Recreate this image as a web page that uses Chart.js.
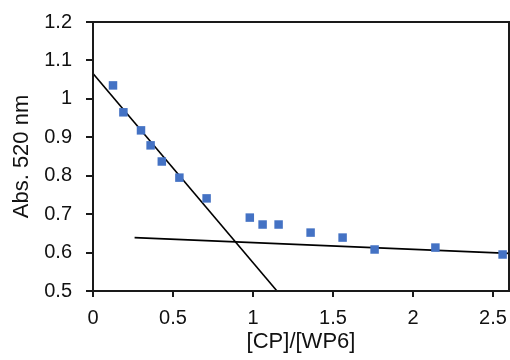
<!DOCTYPE html>
<html>
<head>
<meta charset="utf-8">
<script src="https://cdn.jsdelivr.net/npm/chart.js@4"></script>
<style>
  html, body { margin: 0; padding: 0; background: #fff; }
  #wrap { width: 510px; height: 360px; position: relative; }
</style>
</head>
<body>
<div id="wrap"><canvas id="absChart"></canvas></div>
<script>
// ── Data ──────────────────────────────────────────────────────
const RATIO_X = [0.125, 0.19, 0.30, 0.36, 0.43, 0.54, 0.71, 0.98, 1.06, 1.16, 1.36, 1.56, 1.76, 2.14, 2.56];
const ABS_Y   = [1.035, 0.965, 0.918, 0.879, 0.837, 0.795, 0.741, 0.691, 0.673, 0.673, 0.652, 0.639, 0.608, 0.613, 0.595];

// fitted lines (end points)
const FIT1_X = [0, 1.15];
const FIT1_Y = [1.066, 0.5];
const FIT2_X = [0.26, 2.6];
const FIT2_Y = [0.639, 0.598];

const X_TICKS = [0, 0.5, 1, 1.5, 2, 2.5];
const Y_TICKS = [0.5, 0.6, 0.7, 0.8, 0.9, 1, 1.1, 1.2];

const FONT = 'Liberation Sans, Arial, sans-serif';

function pairs(xs, ys) {
    return xs.map(function (x, i) { return { x: x, y: ys[i] }; });
}

// box around the plot area
const frame = {
    id: 'frame',
    afterDatasetsDraw: function (chart) {
        const a = chart.chartArea, c = chart.ctx;
        c.save();
        c.strokeStyle = '#1a1a1a';
        c.lineWidth = 2;
        c.strokeRect(a.left, a.top, a.right - a.left, a.bottom - a.top);
        c.restore();
    }
};

new Chart(document.getElementById('absChart'), {
    type: 'scatter',
    data: {
        datasets: [
            {
                data: pairs(RATIO_X, ABS_Y),
                pointStyle: 'rect',
                pointRadius: 6,
                pointHoverRadius: 6,
                backgroundColor: '#4472C4',
                borderColor: '#4472C4',
                borderWidth: 0,
                clip: 6,
                order: 0
            },
            {
                data: pairs(FIT1_X, FIT1_Y),
                showLine: true,
                pointRadius: 0,
                borderColor: '#000',
                borderWidth: 1.6,
                order: 1
            },
            {
                data: pairs(FIT2_X, FIT2_Y),
                showLine: true,
                pointRadius: 0,
                borderColor: '#000',
                borderWidth: 1.6,
                order: 1
            }
        ]
    },
    options: {
        responsive: true,
        maintainAspectRatio: false,
        animation: false,
        layout: { autoPadding: false, padding: { top: 22, right: 1, left: 0, bottom: 0 } },
        plugins: { legend: { display: false }, tooltip: { enabled: false } },
        scales: {
            x: {
                type: 'linear',
                min: 0,
                max: 2.6,
                afterBuildTicks: function (s) { s.ticks = X_TICKS.map(function (v) { return { value: v }; }); },
                afterFit: function (s) { s.height = 69; s.paddingLeft = 0; s.paddingRight = 0; },
                border: { display: false },
                grid: { drawOnChartArea: false, tickLength: 6, color: '#1a1a1a', lineWidth: 2 },
                ticks: {
                    padding: 9,
                    color: '#111',
                    font: { family: FONT, size: 20 },
                    callback: function (v) { return String(+v.toFixed(1)); }
                },
                title: {
                    display: true,
                    text: '[CP]/[WP6]',
                    color: '#111',
                    font: { family: FONT, size: 22 },
                    padding: { top: 0, bottom: 5 }
                }
            },
            y: {
                min: 0.5,
                max: 1.2,
                afterBuildTicks: function (s) { s.ticks = Y_TICKS.map(function (v) { return { value: v }; }); },
                afterFit: function (s) { s.width = 93; s.paddingTop = 0; s.paddingBottom = 0; },
                border: { display: false },
                grid: { drawOnChartArea: false, tickLength: 7, color: '#1a1a1a', lineWidth: 2 },
                ticks: {
                    padding: 14,
                    color: '#111',
                    font: { family: FONT, size: 20 },
                    callback: function (v) { return String(+v.toFixed(1)); }
                },
                title: {
                    display: true,
                    text: 'Abs. 520 nm',
                    color: '#111',
                    font: { family: FONT, size: 22 },
                    padding: { top: 9, bottom: 0 }
                }
            }
        }
    },
    plugins: [frame]
});
</script>
</body>
</html>
